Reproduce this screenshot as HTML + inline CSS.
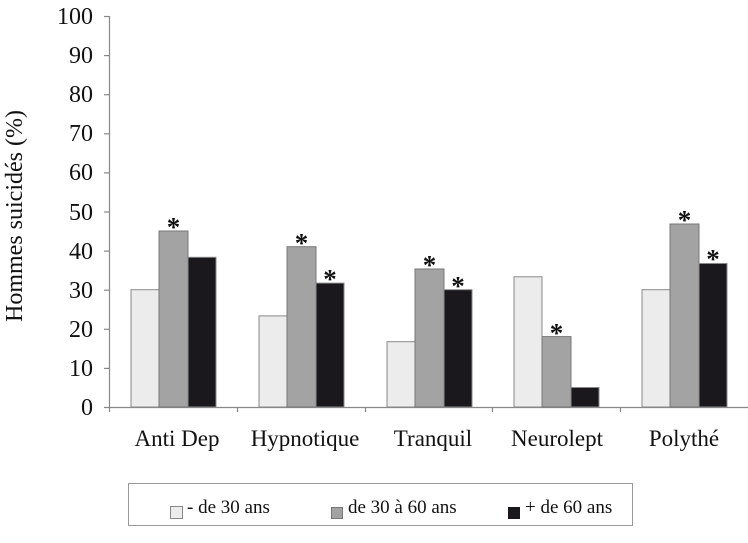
<!DOCTYPE html>
<html><head><meta charset="utf-8"><style>body{margin:0;background:#fff}svg{display:block}text{font-family:"Liberation Serif",serif;fill:#111}</style></head>
<body>
<svg width="748" height="543" viewBox="0 0 748 543">
<g stroke="#888" stroke-width="1.2">
<line x1="109.5" y1="16" x2="109.5" y2="407"/>
<line x1="109" y1="407.5" x2="748" y2="407.5"/>
<line x1="104" y1="16.5" x2="109" y2="16.5"/><line x1="104" y1="55.6" x2="109" y2="55.6"/><line x1="104" y1="94.7" x2="109" y2="94.7"/><line x1="104" y1="133.8" x2="109" y2="133.8"/><line x1="104" y1="172.9" x2="109" y2="172.9"/><line x1="104" y1="212" x2="109" y2="212"/><line x1="104" y1="251.1" x2="109" y2="251.1"/><line x1="104" y1="290.2" x2="109" y2="290.2"/><line x1="104" y1="329.3" x2="109" y2="329.3"/><line x1="104" y1="368.4" x2="109" y2="368.4"/><line x1="104" y1="407.5" x2="109" y2="407.5"/>
<line x1="109.5" y1="407" x2="109.5" y2="412"/><line x1="237.5" y1="407" x2="237.5" y2="412"/><line x1="365.5" y1="407" x2="365.5" y2="412"/><line x1="492.5" y1="407" x2="492.5" y2="412"/><line x1="620.5" y1="407" x2="620.5" y2="412"/>
</g>
<g font-size="24" text-anchor="end">
<text x="93" y="24">100</text><text x="93" y="63">90</text><text x="93" y="102">80</text><text x="93" y="141">70</text><text x="93" y="180">60</text><text x="93" y="220">50</text><text x="93" y="259">40</text><text x="93" y="298">30</text><text x="93" y="337">20</text><text x="93" y="376">10</text><text x="93" y="415">0</text>
</g>
<text transform="translate(22,216) rotate(-90)" font-size="24" text-anchor="middle">Hommes suicidés (%)</text>
<g stroke="#888" stroke-width="1">
<rect x="131" y="289.7" width="28" height="117.3" fill="#ececec"/>
<rect x="159" y="231" width="29" height="176" fill="#a3a3a3" stroke="#777"/>
<rect x="188" y="257.3" width="28" height="149.7" fill="#1a181c"/>
<rect x="259" y="315.9" width="28" height="91.1" fill="#ececec"/>
<rect x="287" y="246.7" width="29" height="160.3" fill="#a3a3a3" stroke="#777"/>
<rect x="316" y="283.1" width="28" height="123.9" fill="#1a181c"/>
<rect x="387" y="341.7" width="28" height="65.3" fill="#ececec"/>
<rect x="415" y="269" width="29" height="138" fill="#a3a3a3" stroke="#777"/>
<rect x="444" y="289.7" width="28" height="117.3" fill="#1a181c"/>
<rect x="514" y="276.8" width="28" height="130.2" fill="#ececec"/>
<rect x="542" y="336.6" width="29" height="70.4" fill="#a3a3a3" stroke="#777"/>
<rect x="571" y="387.5" width="28" height="19.5" fill="#1a181c"/>
<rect x="642" y="289.7" width="28" height="117.3" fill="#ececec"/>
<rect x="670" y="224" width="29" height="183" fill="#a3a3a3" stroke="#777"/>
<rect x="699" y="263.5" width="28" height="143.5" fill="#1a181c"/>
</g>
<g font-size="27" text-anchor="middle" font-weight="bold" style="font-family:'Liberation Sans',sans-serif">
<text x="173.5" y="236">*</text><text x="301.5" y="252">*</text><text x="330" y="288">*</text><text x="429.5" y="274">*</text><text x="458" y="295">*</text><text x="556.5" y="342">*</text><text x="684.5" y="229">*</text><text x="713" y="268">*</text>
</g>
<g font-size="23" text-anchor="middle">
<text x="177" y="446">Anti Dep</text><text x="305" y="446">Hypnotique</text><text x="433" y="446">Tranquil</text><text x="557" y="446">Neurolept</text><text x="684" y="446">Polythé</text>
</g>
<rect x="128.5" y="483.5" width="504" height="42" fill="#fff" stroke="#999" stroke-width="1"/>
<rect x="170.5" y="506.5" width="12" height="12" fill="#ececec" stroke="#888"/>
<rect x="331.5" y="507.5" width="11" height="11" fill="#a3a3a3" stroke="#777"/>
<rect x="508" y="507" width="12" height="12" fill="#1a181c"/>
<g font-size="19"><text x="187" y="513">- de 30 ans</text><text x="348" y="513">de 30 à 60 ans</text><text x="525" y="513">+ de 60 ans</text></g>
</svg>
</body></html>
